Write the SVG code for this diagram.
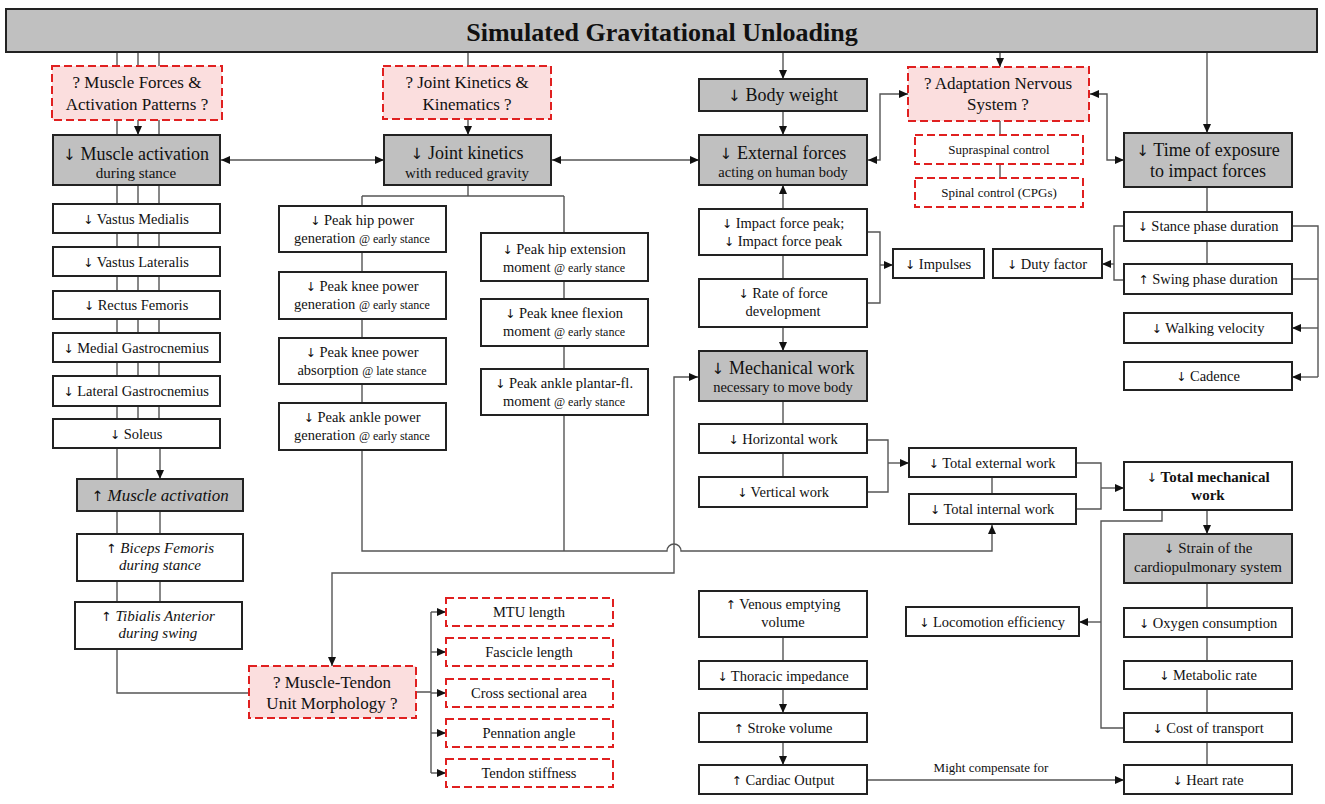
<svg xmlns="http://www.w3.org/2000/svg" width="1325" height="804" viewBox="0 0 1325 804">
<style>
  text { font-family: "Liberation Serif", "Times New Roman", serif; fill: #111; text-anchor: middle; }
  .ar { font-family: "DejaVu Sans", sans-serif; font-style: normal; font-weight: normal; font-size: 0.85em; fill: #111; }
  .b { stroke: #222; stroke-width: 2; fill: #fff; }
  .g { stroke: #222; stroke-width: 2; fill: #c0c0c0; }
  .q { stroke: #e02020; stroke-width: 2; stroke-dasharray: 8 4; fill: #fbdede; }
  .d { stroke: #e02020; stroke-width: 2; stroke-dasharray: 8 4; fill: #fff; }
  .c { stroke: #555; stroke-width: 1.4; fill: none; }
  .a { marker-end: url(#ah); }
  .s { marker-start: url(#ahs); }
  .t14 { font-size: 14.5px; }
  .t13 { font-size: 13px; }
  .t12 { font-size: 12px; }
  .t15 { font-size: 15px; }
  .t17 { font-size: 17px; }
  .t18 { font-size: 18px; }
  .it { font-style: italic; }
  .bd { font-weight: bold; }
</style>
<defs>
  <marker id="ah" markerWidth="10" markerHeight="10" refX="9" refY="5" orient="auto" markerUnits="userSpaceOnUse">
    <path d="M0,1 L9,5 L0,9 Z" fill="#111"/>
  </marker>
  <marker id="ahs" markerWidth="10" markerHeight="10" refX="1" refY="5" orient="auto" markerUnits="userSpaceOnUse">
    <path d="M10,1 L1,5 L10,9 Z" fill="#111"/>
  </marker>
</defs>

<g id="connectors">
  <path class="c" d="M117,52 V135 M159,52 V135"/>
  <path class="c a" d="M138,52 V135"/>
  <path class="c" d="M117,185 V204 M138,185 V204 M159,185 V204 M117,233 V247 M138,233 V247 M159,233 V247 M117,276 V291 M138,276 V291 M159,276 V291 M117,319 V333 M138,319 V333 M159,319 V333 M117,362 V376 M138,362 V376 M159,362 V376 M117,406 V419 M138,406 V419 M159,406 V419"/>
  <path class="c" d="M117,448 V479"/>
  <path class="c a" d="M160,448 V479"/>
  <path class="c" d="M117,511 V534 M160,511 V534 M117,581 V602 M160,581 V602"/>
  <path class="c" d="M117,649 V693 H249"/>
  <path class="c" d="M468,52 V66"/>
  <path class="c a" d="M468,119 V135"/>
  <path class="c s a" d="M221,160 H384"/>
  <path class="c s a" d="M552,160 H699"/>
  <path class="c" d="M468,185 V196 M362,196 H564 M362,196 V206 M564,196 V233"/>
  <path class="c" d="M362,252 V272 M362,319 V338 M362,384 V403 M564,281 V299 M564,346 V369"/>
  <path class="c a" d="M362,450 V551 H667 A7,7 0 0 1 681,551 H992 V525"/>
  <path class="c" d="M564,415 V551"/>
  <path class="c s a" d="M698,377 H674 V573 H332 V666"/>
  <path class="c a" d="M783,52 V79"/>
  <path class="c a" d="M783,111 V135"/>
  <path class="c a" d="M783,209 V185"/>
  <path class="c" d="M783,255 V279"/>
  <path class="c a" d="M783,327 V351"/>
  <path class="c" d="M783,401 V424 M783,453 V477"/>
  <path class="c" d="M867,232 H880 V303 H867"/>
  <path class="c a" d="M880,265 H893"/>
  <path class="c" d="M867,440 H888 V492 H867"/>
  <path class="c a" d="M888,463 H909"/>
  <path class="c" d="M992,477 V494"/>
  <path class="c" d="M1076,463 H1101 V509 H1076"/>
  <path class="c a" d="M1101,488 H1124"/>
  <path class="c a" d="M1207,510 V534"/>
  <path class="c" d="M1162,510 V521 H1101 V728 H1124"/>
  <path class="c a" d="M1101,622 H1079"/>
  <path class="c" d="M1207,583 V608 M1207,637 V661 M1207,689 V713 M1207,742 V765"/>
  <path class="c" d="M783,637 V661"/>
  <path class="c a" d="M783,689 V713"/>
  <path class="c a" d="M783,742 V765"/>
  <path class="c a" d="M867,780 H1124"/>
  <text x="991" y="772" class="t13">Might compensate for</text>
  <path class="c a" d="M1000,52 V67"/>
  <path class="c" d="M1000,121 V135 M1000,164 V178"/>
  <path class="c s a" d="M868,160 H880 V94 H908"/>
  <path class="c s a" d="M1090,94 H1107 V160 H1124"/>
  <path class="c a" d="M1207,52 V133"/>
  <path class="c" d="M1207,187 V212 M1207,241 V264"/>
  <path class="c" d="M1292,226 H1318 V377 M1292,279 H1318"/>
  <path class="c a" d="M1318,328 H1292"/>
  <path class="c a" d="M1318,377 H1292"/>
  <path class="c" d="M1124,226 H1114 V280 H1124"/>
  <path class="c a" d="M1114,264 H1102"/>
  <path class="c" d="M416,692 H431 M431,612 V773"/>
  <path class="c a" d="M431,612 H446"/>
  <path class="c a" d="M431,652 H446"/>
  <path class="c a" d="M431,693 H446"/>
  <path class="c a" d="M431,733 H446"/>
  <path class="c a" d="M431,773 H446"/>
</g>

<g id="title"><rect class="g" x="6" y="9" width="1311" height="43"/><text x="662" y="41" class="bd" style="font-size:26px">Simulated Gravitational Unloading</text></g>

<g id="q-muscle"><rect class="q" x="52" y="66" width="170" height="54"/><text x="137" y="88" class="t17">? Muscle Forces &amp;</text><text x="137" y="110" class="t17">Activation Patterns ?</text></g>
<g id="muscle-act"><rect class="g" x="53" y="135" width="167" height="50"/><text x="136" y="160" class="t18"><tspan class="ar">↓</tspan> Muscle activation</text><text x="136" y="178" class="t15">during stance</text></g>
<g id="vm"><rect class="b" x="53" y="204" width="167" height="29"/><text x="136" y="224" class="t14"><tspan class="ar">↓</tspan> Vastus Medialis</text></g>
<g id="vl"><rect class="b" x="53" y="247" width="167" height="29"/><text x="136" y="267" class="t14"><tspan class="ar">↓</tspan> Vastus Lateralis</text></g>
<g id="rf"><rect class="b" x="53" y="291" width="167" height="28"/><text x="136" y="310" class="t14"><tspan class="ar">↓</tspan> Rectus Femoris</text></g>
<g id="mg"><rect class="b" x="53" y="333" width="167" height="29"/><text x="136" y="353" class="t14"><tspan class="ar">↓</tspan> Medial Gastrocnemius</text></g>
<g id="lg"><rect class="b" x="53" y="376" width="167" height="30"/><text x="136" y="396" class="t14"><tspan class="ar">↓</tspan> Lateral Gastrocnemius</text></g>
<g id="soleus"><rect class="b" x="53" y="419" width="167" height="29"/><text x="136" y="439" class="t14"><tspan class="ar">↓</tspan> Soleus</text></g>
<g id="up-muscle"><rect class="g" x="77" y="479" width="166" height="32"/><text x="160" y="501" class="t17"><tspan class="ar">↑</tspan> <tspan class="it">Muscle activation</tspan></text></g>
<g id="biceps"><rect class="b" x="77" y="534" width="166" height="47"/><text x="160" y="553" class="t15"><tspan class="ar">↑</tspan> <tspan class="it">Biceps Femoris</tspan></text><text x="160" y="570" class="t15 it">during stance</text></g>
<g id="tibialis"><rect class="b" x="75" y="602" width="167" height="47"/><text x="158" y="621" class="t15"><tspan class="ar">↑</tspan> <tspan class="it">Tibialis Anterior</tspan></text><text x="158" y="638" class="t15 it">during swing</text></g>

<g id="q-mtu"><rect class="q" x="249" y="666" width="167" height="52"/><text x="332" y="688" class="t17">? Muscle-Tendon</text><text x="332" y="709" class="t17">Unit Morphology ?</text></g>
<g id="mtu-length"><rect class="d" x="446" y="598" width="167" height="28"/><text x="529" y="617" class="t14">MTU length</text></g>
<g id="fascicle"><rect class="d" x="446" y="638" width="167" height="28"/><text x="529" y="657" class="t14">Fascicle length</text></g>
<g id="csa"><rect class="d" x="446" y="679" width="167" height="28"/><text x="529" y="698" class="t14">Cross sectional area</text></g>
<g id="pennation"><rect class="d" x="446" y="719" width="167" height="28"/><text x="529" y="738" class="t14">Pennation angle</text></g>
<g id="tendon"><rect class="d" x="446" y="759" width="167" height="28"/><text x="529" y="778" class="t14">Tendon stiffness</text></g>

<g id="q-joint"><rect class="q" x="383" y="66" width="168" height="53"/><text x="467" y="88" class="t17">? Joint Kinetics &amp;</text><text x="467" y="110" class="t17">Kinematics ?</text></g>
<g id="joint-kin"><rect class="g" x="384" y="135" width="167" height="50"/><text x="467" y="159" class="t18"><tspan class="ar">↓</tspan> Joint kinetics</text><text x="467" y="178" class="t15">with reduced gravity</text></g>
<g id="hip-power"><rect class="b" x="279" y="206" width="167" height="46"/><text x="362" y="225" class="t14"><tspan class="ar">↓</tspan> Peak hip power</text><text x="362" y="243" class="t14">generation <tspan class="t12">@ early stance</tspan></text></g>
<g id="knee-gen"><rect class="b" x="279" y="272" width="167" height="47"/><text x="362" y="291" class="t14"><tspan class="ar">↓</tspan> Peak knee power</text><text x="362" y="309" class="t14">generation <tspan class="t12">@ early stance</tspan></text></g>
<g id="knee-abs"><rect class="b" x="279" y="338" width="167" height="46"/><text x="362" y="357" class="t14"><tspan class="ar">↓</tspan> Peak knee power</text><text x="362" y="375" class="t14">absorption <tspan class="t12">@ late stance</tspan></text></g>
<g id="ankle-power"><rect class="b" x="279" y="403" width="167" height="47"/><text x="362" y="422" class="t14"><tspan class="ar">↓</tspan> Peak ankle power</text><text x="362" y="440" class="t14">generation <tspan class="t12">@ early stance</tspan></text></g>
<g id="hip-ext"><rect class="b" x="481" y="233" width="167" height="48"/><text x="564" y="254" class="t14"><tspan class="ar">↓</tspan> Peak hip extension</text><text x="564" y="272" class="t14">moment <tspan class="t12">@ early stance</tspan></text></g>
<g id="knee-flex"><rect class="b" x="481" y="299" width="167" height="47"/><text x="564" y="318" class="t14"><tspan class="ar">↓</tspan> Peak knee flexion</text><text x="564" y="336" class="t14">moment <tspan class="t12">@ early stance</tspan></text></g>
<g id="ankle-pf"><rect class="b" x="481" y="369" width="167" height="46"/><text x="564" y="388" class="t14"><tspan class="ar">↓</tspan> Peak ankle plantar-fl.</text><text x="564" y="406" class="t14">moment <tspan class="t12">@ early stance</tspan></text></g>

<g id="body-weight"><rect class="g" x="699" y="79" width="168" height="32"/><text x="783" y="101" class="t18"><tspan class="ar">↓</tspan> Body weight</text></g>
<g id="ext-forces"><rect class="g" x="699" y="135" width="168" height="50"/><text x="783" y="159" class="t18"><tspan class="ar">↓</tspan> External forces</text><text x="783" y="177" class="t14">acting on human body</text></g>
<g id="impact"><rect class="b" x="699" y="209" width="168" height="46"/><text x="783" y="228" class="t14"><tspan class="ar">↓</tspan> Impact force peak;</text><text x="783" y="246" class="t14"><tspan class="ar">↓</tspan> Impact force peak</text></g>
<g id="impulses"><rect class="b" x="893" y="249" width="91" height="29"/><text x="938" y="269" class="t14"><tspan class="ar">↓</tspan> Impulses</text></g>
<g id="rate"><rect class="b" x="699" y="279" width="168" height="48"/><text x="783" y="298" class="t14"><tspan class="ar">↓</tspan> Rate of force</text><text x="783" y="316" class="t14">development</text></g>
<g id="mech-work"><rect class="g" x="699" y="351" width="168" height="50"/><text x="783" y="374" class="t18"><tspan class="ar">↓</tspan> Mechanical work</text><text x="783" y="392" class="t14">necessary to move body</text></g>
<g id="horizontal"><rect class="b" x="699" y="424" width="168" height="29"/><text x="783" y="444" class="t14"><tspan class="ar">↓</tspan> Horizontal work</text></g>
<g id="vertical"><rect class="b" x="699" y="477" width="168" height="30"/><text x="783" y="497" class="t14"><tspan class="ar">↓</tspan> Vertical work</text></g>
<g id="total-ext"><rect class="b" x="909" y="448" width="167" height="29"/><text x="992" y="468" class="t14"><tspan class="ar">↓</tspan> Total external work</text></g>
<g id="total-int"><rect class="b" x="909" y="494" width="167" height="30"/><text x="992" y="514" class="t14"><tspan class="ar">↓</tspan> Total internal work</text></g>
<g id="total-mech"><rect class="b" x="1124" y="462" width="168" height="48"/><text x="1208" y="482" class="t15 bd"><tspan class="ar">↓</tspan> Total mechanical</text><text x="1208" y="500" class="t15 bd">work</text></g>
<g id="strain"><rect class="g" x="1124" y="534" width="168" height="49"/><text x="1208" y="553" class="t15"><tspan class="ar">↓</tspan> Strain of the</text><text x="1208" y="572" class="t15">cardiopulmonary system</text></g>
<g id="oxygen"><rect class="b" x="1124" y="608" width="168" height="29"/><text x="1208" y="628" class="t14"><tspan class="ar">↓</tspan> Oxygen consumption</text></g>
<g id="metabolic"><rect class="b" x="1124" y="661" width="168" height="28"/><text x="1208" y="680" class="t14"><tspan class="ar">↓</tspan> Metabolic rate</text></g>
<g id="cot"><rect class="b" x="1124" y="713" width="168" height="29"/><text x="1208" y="733" class="t14"><tspan class="ar">↓</tspan> Cost of transport</text></g>
<g id="heart-rate"><rect class="b" x="1124" y="765" width="168" height="29"/><text x="1208" y="785" class="t14"><tspan class="ar">↓</tspan> Heart rate</text></g>
<g id="loco-eff"><rect class="b" x="906" y="607" width="173" height="29"/><text x="992" y="627" class="t14"><tspan class="ar">↓</tspan> Locomotion efficiency</text></g>
<g id="venous"><rect class="b" x="699" y="591" width="168" height="46"/><text x="783" y="609" class="t14"><tspan class="ar">↑</tspan> Venous emptying</text><text x="783" y="627" class="t14">volume</text></g>
<g id="thoracic"><rect class="b" x="699" y="661" width="168" height="28"/><text x="783" y="681" class="t14"><tspan class="ar">↓</tspan> Thoracic impedance</text></g>
<g id="stroke-vol"><rect class="b" x="699" y="713" width="168" height="29"/><text x="783" y="733" class="t14"><tspan class="ar">↑</tspan> Stroke volume</text></g>
<g id="cardiac"><rect class="b" x="699" y="765" width="168" height="29"/><text x="783" y="785" class="t14"><tspan class="ar">↑</tspan> Cardiac Output</text></g>

<g id="q-adapt"><rect class="q" x="908" y="67" width="181" height="54"/><text x="998" y="89" class="t17">? Adaptation Nervous</text><text x="998" y="110" class="t17">System ?</text></g>
<g id="supraspinal"><rect class="d" x="915" y="135" width="168" height="29"/><text x="999" y="154" class="t13">Supraspinal control</text></g>
<g id="spinal"><rect class="d" x="915" y="178" width="168" height="29"/><text x="999" y="197" class="t13">Spinal control (CPGs)</text></g>
<g id="time-exp"><rect class="g" x="1124" y="133" width="168" height="54"/><text x="1208" y="156" class="t18"><tspan class="ar">↓</tspan> Time of exposure</text><text x="1208" y="177" class="t18">to impact forces</text></g>
<g id="stance"><rect class="b" x="1124" y="212" width="168" height="29"/><text x="1208" y="231" class="t14"><tspan class="ar">↓</tspan> Stance phase duration</text></g>
<g id="duty"><rect class="b" x="993" y="249" width="109" height="29"/><text x="1047" y="269" class="t14"><tspan class="ar">↓</tspan> Duty factor</text></g>
<g id="swing"><rect class="b" x="1124" y="264" width="168" height="30"/><text x="1208" y="284" class="t14"><tspan class="ar">↑</tspan> Swing phase duration</text></g>
<g id="walking"><rect class="b" x="1124" y="313" width="168" height="30"/><text x="1208" y="333" class="t14"><tspan class="ar">↓</tspan> Walking velocity</text></g>
<g id="cadence"><rect class="b" x="1124" y="362" width="168" height="28"/><text x="1208" y="381" class="t14"><tspan class="ar">↓</tspan> Cadence</text></g>
</svg>
